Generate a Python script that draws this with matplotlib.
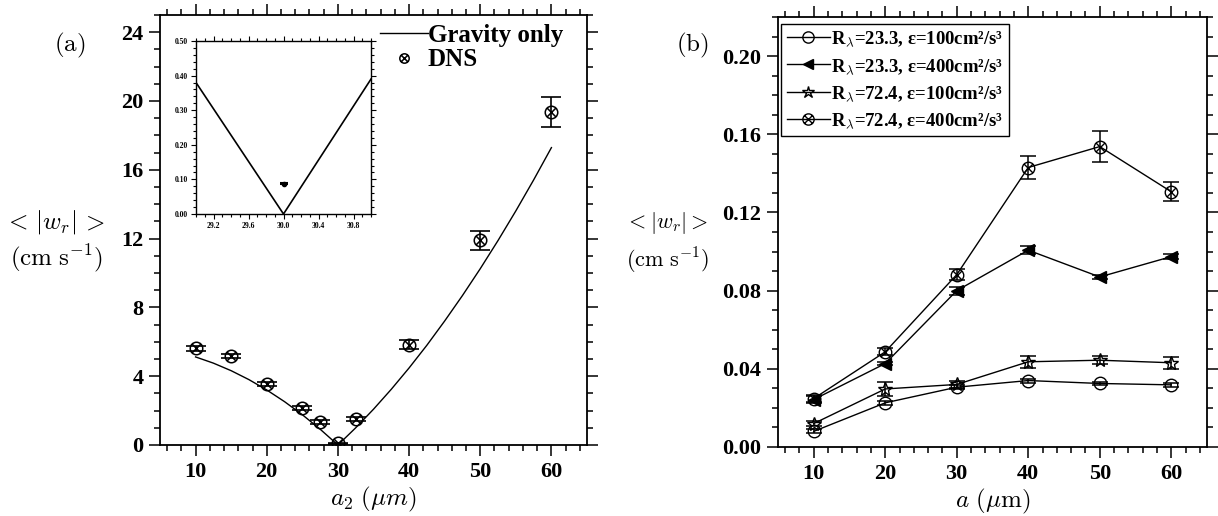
import numpy as np
import matplotlib
matplotlib.use("Agg")
import matplotlib.pyplot as plt
from matplotlib.path import Path
from matplotlib.ticker import MultipleLocator, FormatStrFormatter

plt.rcParams['mathtext.fontset'] = 'cm'
plt.rcParams['font.family'] = ['Liberation Serif', 'DejaVu Serif']
plt.rcParams['font.weight'] = 'bold'

# ---------------- data: panel (a) ----------------
grav_a2 = [10, 12.5, 15, 17.5, 20, 22.5, 25, 27.5, 30, 32.5, 35, 37.5, 40,
           42.5, 45, 47.5, 50, 52.5, 55, 57.5, 60]
grav_w = [5.12, 4.76, 4.32, 3.80, 3.20, 2.52, 1.76, 0.92, 0.0, 1.00, 2.08,
          3.24, 4.48, 5.80, 7.21, 8.69, 10.25, 11.89, 13.61, 15.41, 17.29]
dns_a2 = [10, 15, 20, 25, 27.5, 30, 32.5, 40, 50, 60]
dns_w = [5.63, 5.17, 3.55, 2.16, 1.36, 0.09, 1.51, 5.83, 11.9, 19.36]
dns_err = [0.14, 0.14, 0.14, 0.12, 0.12, 0.05, 0.10, 0.27, 0.56, 0.86]

inset_a2 = [29.0, 30.0, 31.0]
inset_grav = [0.38, 0.0, 0.39]
inset_dns_a2 = [30.0]
inset_dns_w = [0.088]
inset_dns_err = [0.002]

# ---------------- data: panel (b) ----------------
b_a = [10, 20, 30, 40, 50, 60]
s1 = [0.0080, 0.0226, 0.0306, 0.0340, 0.0325, 0.0318]
s1_err = [0.001, 0.001, 0.001, 0.001, 0.001, 0.001]
s2 = [0.0243, 0.0427, 0.0800, 0.1007, 0.0870, 0.0974]
s2_err = [0.002, 0.001, 0.002, 0.002, 0.001, 0.0014]
s3 = [0.0120, 0.0297, 0.0320, 0.0436, 0.0444, 0.0431]
s3_err = [0.0012, 0.0036, 0.002, 0.003, 0.002, 0.003]
s4 = [0.0248, 0.0487, 0.0882, 0.1430, 0.1537, 0.1306]
s4_err = [0.002, 0.0017, 0.003, 0.0058, 0.0078, 0.0049]
b_labels = [r'R$_\lambda$=23.3, ε=100cm²/s³',
            r'R$_\lambda$=23.3, ε=400cm²/s³',
            r'R$_\lambda$=72.4, ε=100cm²/s³',
            r'R$_\lambda$=72.4, ε=400cm²/s³']

# circle-with-cross marker
_c = Path.unit_circle()
_d = 0.7071
_x = Path([(-_d, -_d), (_d, _d), (-_d, _d), (_d, -_d)],
          [Path.MOVETO, Path.LINETO, Path.MOVETO, Path.LINETO])
otimes = Path.make_compound_path(_c, _x)

W, H = 1218, 516
fig = plt.figure(figsize=(W / 100, H / 100), dpi=100)


def style_axes(ax):
    ax.tick_params(which='both', direction='out', top=True, right=True,
                   labeltop=False, labelright=False, width=1.1, pad=4,
                   labelsize=16)
    ax.tick_params(which='major', length=8)
    ax.tick_params(which='minor', length=4.5)
    for s in ax.spines.values():
        s.set_linewidth(1.3)


# ---------------- panel (a) ----------------
axa = fig.add_axes([160 / W, 1 - 445 / H, 427 / W, 430 / H])
grav_line, = axa.plot(grav_a2, grav_w, color='k', lw=1.0)
axa.errorbar(dns_a2, dns_w, yerr=dns_err, fmt='none', ecolor='k',
             elinewidth=1.2, capsize=7, capthick=1.2)
dns_m, = axa.plot(dns_a2, dns_w, ls='none', marker=otimes, ms=9, mfc='none',
                  mec='k', mew=1.1)
axa.set_xlim(5, 65)
axa.set_ylim(0, 25)
axa.xaxis.set_major_locator(MultipleLocator(10))
axa.xaxis.set_minor_locator(MultipleLocator(2))
axa.yaxis.set_major_locator(MultipleLocator(4))
axa.yaxis.set_minor_locator(MultipleLocator(1))
style_axes(axa)
axa.set_xlabel(r'$a_2\ (\mu m)$', fontsize=18, labelpad=2)
fig.text(54 / W, 1 - 222 / H, r'$<\,|w_r|\,>$', fontsize=18, ha='center', va='center')
fig.text(57 / W, 1 - 258 / H, r'$(\mathrm{cm\ s}^{-1})$', fontsize=18,
         ha='center', va='center')
fig.text(70 / W, 1 - 45 / H, r'$\mathrm{(a)}$', fontsize=18, ha='center', va='center')

axa.legend([grav_line, dns_m], ['Gravity only', 'DNS'],
           loc='upper left', bbox_to_anchor=(380 / W, 1 - 24 / H),
           bbox_transform=fig.transFigure, frameon=False,
           prop=dict(family='Liberation Serif', weight='bold', size=18),
           handlelength=1.9, handletextpad=0.0, labelspacing=0.05,
           borderpad=0, borderaxespad=0, markerscale=0.75)

# inset
axi = fig.add_axes([196 / W, 1 - 214 / H, 175 / W, 173 / H])
axi.plot(inset_a2, inset_grav, color='k', lw=1.2)
axi.errorbar(inset_dns_a2, inset_dns_w, yerr=inset_dns_err, fmt='o', ms=3,
             color='k', ecolor='k', capsize=3, elinewidth=1, capthick=1.5)
axi.set_xlim(29.0, 31.0)
axi.set_ylim(0, 0.5)
axi.set_xticks([29.2, 29.6, 30.0, 30.4, 30.8])
axi.xaxis.set_minor_locator(MultipleLocator(0.1))
axi.yaxis.set_major_locator(MultipleLocator(0.1))
axi.yaxis.set_minor_locator(MultipleLocator(0.02))
axi.xaxis.set_major_formatter(FormatStrFormatter('%.1f'))
axi.yaxis.set_major_formatter(FormatStrFormatter('%.2f'))
axi.tick_params(which='both', direction='out', top=True, right=True, width=0.8,
                pad=2, labelsize=5.5)
axi.tick_params(which='major', length=3.5)
axi.tick_params(which='minor', length=2)
for s in axi.spines.values():
    s.set_linewidth(1.0)

# ---------------- panel (b) ----------------
axb = fig.add_axes([778 / W, 1 - 447 / H, 429 / W, 430 / H])
series = [(s1, s1_err, 'o', 'none', 9),
          (s2, s2_err, '<', 'k', 8),
          (s3, s3_err, '*', 'none', 10),
          (s4, s4_err, otimes, 'none', 9)]
handles = []
for vals, err, mk, fc, ms in series:
    axb.errorbar(b_a, vals, yerr=err, fmt='none', ecolor='k', elinewidth=1.1,
                 capsize=6, capthick=1.1)
    h, = axb.plot(b_a, vals, color='k', lw=1.0, marker=mk, ms=ms, mfc=fc,
                  mec='k', mew=1.0)
    handles.append(h)
axb.set_xlim(5, 65)
axb.set_ylim(0, 0.22)
axb.xaxis.set_major_locator(MultipleLocator(10))
axb.xaxis.set_minor_locator(MultipleLocator(2))
axb.yaxis.set_major_locator(MultipleLocator(0.04))
axb.yaxis.set_minor_locator(MultipleLocator(0.01))
axb.yaxis.set_major_formatter(FormatStrFormatter('%.2f'))
style_axes(axb)
axb.set_xlabel(r'$a\ (\mu\mathrm{m})$', fontsize=18, labelpad=2)
fig.text(667 / W, 1 - 223 / H, r'$<|w_r|>$', fontsize=16, ha='center', va='center')
fig.text(668 / W, 1 - 261 / H, r'$(\mathrm{cm\ s}^{-1})$', fontsize=16,
         ha='center', va='center')
fig.text(692 / W, 1 - 45 / H, r'$\mathrm{(b)}$', fontsize=18, ha='center', va='center')

legb = axb.legend(handles, b_labels, loc='upper left',
                  bbox_to_anchor=(781 / W, 1 - 24 / H),
                  bbox_transform=fig.transFigure,
                  prop=dict(family='Liberation Serif', weight='bold', size=13.5),
                  handlelength=2.3, handletextpad=0.05, labelspacing=0.45,
                  borderpad=0.3, borderaxespad=0, fancybox=False,
                  edgecolor='k', framealpha=1, markerscale=0.9)
legb.get_frame().set_linewidth(1.0)

fig.savefig('out.png', dpi=100)
